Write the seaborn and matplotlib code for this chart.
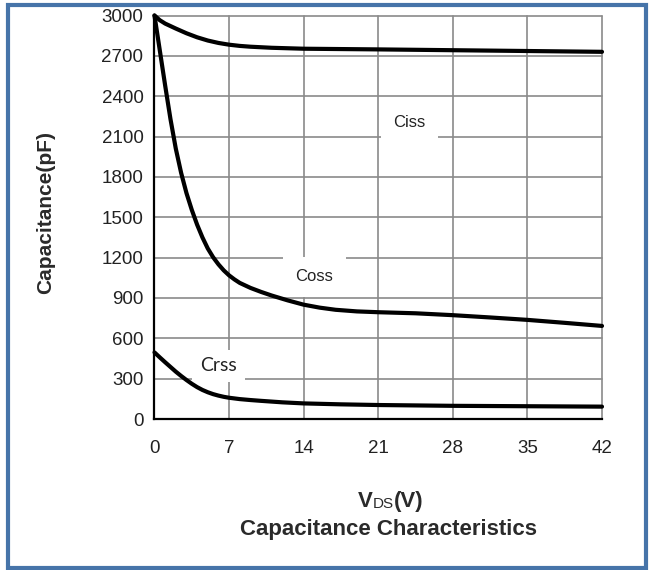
import matplotlib
matplotlib.use('Agg')
import matplotlib.pyplot as plt
import seaborn as sns
import pandas as pd
from matplotlib.patches import Rectangle

# data (VDS in V, capacitance in pF)
ciss_v = [0, 0.5, 1, 2, 3, 4, 5, 6, 7, 8, 9, 11, 14, 21, 28, 35, 42]
ciss_c = [3000, 2965, 2940, 2903, 2868, 2838, 2814, 2796, 2783, 2774, 2768, 2760, 2753, 2748, 2742, 2736, 2730]

coss_v = [0, 0.5, 1, 1.5, 2, 2.5, 3, 3.5, 4, 4.5, 5, 5.5, 6, 6.5, 7, 7.5, 8, 9, 10, 11, 12.5, 14, 15.5, 17, 19,
          21, 24.5, 28, 31.5, 35, 38.5, 42]
coss_c = [3000, 2740, 2480, 2230, 2010, 1830, 1680, 1555, 1445, 1350, 1268, 1203, 1150, 1105, 1068, 1038, 1012,
          975, 945, 918, 882, 850, 828, 812, 800, 794, 786, 772, 755, 737, 715, 692]

crss_v = [0, 0.5, 1, 1.5, 2, 2.5, 3, 3.5, 4, 4.5, 5, 5.5, 6, 6.5, 7, 8, 9, 10, 12, 14, 17.5, 21, 28, 35, 42]
crss_c = [495, 458, 422, 387, 352, 320, 290, 262, 237, 216, 199, 185, 174, 165, 158, 148, 141, 135, 124, 116, 109,
          104, 98, 95, 92]

x_ticks = [0, 7, 14, 21, 28, 35, 42]
y_ticks = [0, 300, 600, 900, 1200, 1500, 1800, 2100, 2400, 2700, 3000]

# where the curve names sit
labels = ['Ciss', 'Coss', 'Crss']
label_v = [23.9, 15.0, 6.0]
label_c = [2207, 1057, 395]

sns.set_theme(style='white')
plt.rcParams['font.family'] = ['Liberation Sans', 'DejaVu Sans']

fig = plt.figure(figsize=(6.56, 5.7), dpi=100)
ax = fig.add_axes([0.2355, 0.2649, 0.6822, 0.7079])

df = pd.concat([
    pd.DataFrame({'VDS': ciss_v, 'C': ciss_c, 'curve': 'Ciss'}),
    pd.DataFrame({'VDS': coss_v, 'C': coss_c, 'curve': 'Coss'}),
    pd.DataFrame({'VDS': crss_v, 'C': crss_c, 'curve': 'Crss'}),
])
for name, grp in df.groupby('curve'):
    sns.lineplot(data=grp, x='VDS', y='C', ax=ax, color='black', lw=3, legend=False, clip_on=False, zorder=3)

ax.set_xlim(0, 42)
ax.set_ylim(0, 3000)
ax.set_xticks(x_ticks)
ax.set_yticks(y_ticks)
ax.grid(True, color='#8a8a8a', lw=1.2)
for gl in ax.get_xgridlines() + ax.get_ygridlines():
    gl.set_clip_on(False)
ax.set_axisbelow(True)

for s in ['top', 'right']:
    ax.spines[s].set_visible(False)
for s in ['left', 'bottom']:
    ax.spines[s].set_color('black')
    ax.spines[s].set_linewidth(1.6)
    ax.spines[s].set_zorder(2.5)

ax.tick_params(axis='x', length=0, pad=15, labelsize=13.5, labelcolor='#222222')
ax.tick_params(axis='y', length=0, pad=8, labelsize=13.5, labelcolor='#222222')

ax.set_xlabel('')
ax.set_ylabel('Capacitance(pF)', fontsize=15, fontweight='bold', color='#2a2a2a')
ax.yaxis.set_label_coords(-0.222, 0.511)

for i, name in enumerate(labels):
    if name == 'Crss':
        ax.text(label_v[i], label_c[i], name, fontsize=14, family=['Lato', 'DejaVu Sans'], color='#222222',
                ha='center', va='center', zorder=1.5,
                bbox=dict(boxstyle='square,pad=0.4', fc='white', ec='none'))
    else:
        ax.text(label_v[i], label_c[i], name, fontsize=12, color='#222222',
                ha='center', va='center', zorder=1.5,
                bbox=dict(boxstyle='square,pad=0.75', fc='white', ec='none'))

# x axis label VDS(V) with small DS
t1 = fig.text(358 / 656, 1 - 507 / 570, 'V', fontsize=16, fontweight='bold', color='#2a2a2a', va='baseline')
t2 = ax.annotate('DS', xy=(1, 0), xycoords=t1, xytext=(0, 1), textcoords='offset points',
                 fontsize=11, color='#2a2a2a', va='bottom', annotation_clip=False)
ax.annotate('(V)', xy=(1, 0), xycoords=t2, xytext=(0, -1), textcoords='offset points',
            fontsize=16, fontweight='bold', color='#2a2a2a', va='bottom', annotation_clip=False)

fig.text(389 / 656, 1 - 535 / 570, 'Capacitance Characteristics', fontsize=16, fontweight='bold',
         color='#2a2a2a', ha='center', va='baseline')

# blue frame around the picture
fig.patches.append(Rectangle((7.5 / 656, 2 / 570), 638 / 656, 563 / 570, transform=fig.transFigure,
                             fill=False, ec='#4674a9', lw=3, zorder=10))

fig.savefig('out.png', dpi=100)
